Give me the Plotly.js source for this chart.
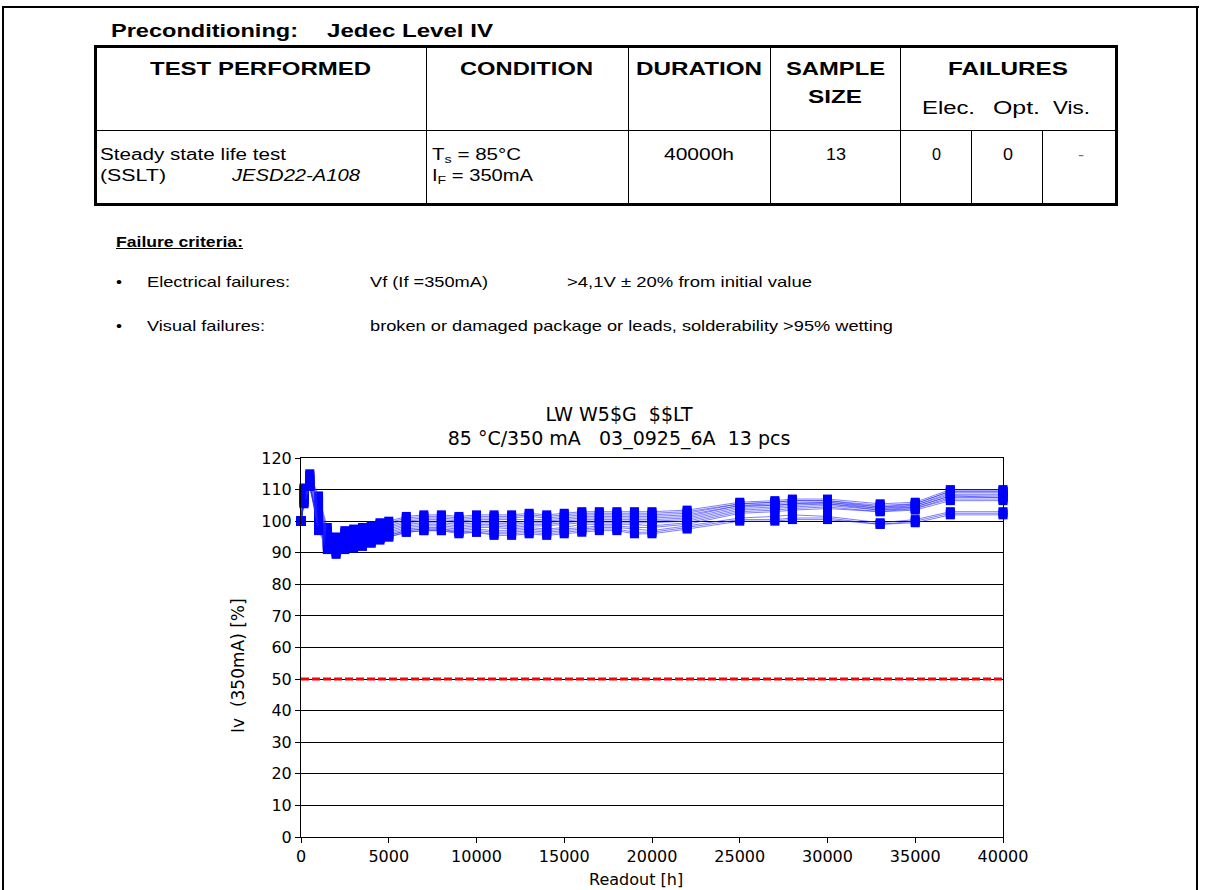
<!DOCTYPE html>
<html><head><meta charset="utf-8">
<script src="https://cdn.plot.ly/plotly-3.0.1.min.js"></script>
<style>
html,body{margin:0;padding:0;background:#fff;width:1206px;height:890px;overflow:hidden;}
#chart{position:absolute;left:0;top:0;width:1206px;height:890px;}
.doc{position:absolute;z-index:5;font-family:Arial,"Liberation Sans",sans-serif;color:#000;white-space:nowrap;line-height:1;transform-origin:0 50%;}
.doc sub{font-size:0.7em;vertical-align:-0.3em;line-height:0;}
.ln{position:absolute;z-index:5;background:#000;}
</style></head><body>
<div id="chart"></div>
<div id="doc"></div>
<script>
// ---------------- chart data ----------------
const readoutHours = [0,168,500,1000,1500,2000,2500,3000,3500,4000,4500,5000,6000,7000,8000,9000,10000,11000,12000,13000,14000,15000,16000,17000,18000,19000,20000,22000,25000,27000,28000,30000,33000,35000,37000,40000];
const s01 = [100,110.5,115,108,98,95,97,97.5,98,98.5,99.5,100,101.5,102,102,101.5,102,102,102,102.5,102,102.5,103,103,103,103,103,103.5,106,106.5,107,107,105.5,106,110,110];
const s02 = [100,110,114.5,107,97,94.5,96.5,97,97.5,98,99,99.5,101,101.5,101.5,101,101.5,101.5,101.5,102,101.5,102,102.5,102.5,102.5,102.5,102.5,103,105.5,106,106.5,106.5,105,105.5,109.5,109.5];
const s03 = [100,109.5,114,106,96.5,94,96,96.5,97,97.5,98.5,99,100.5,101,101,100.5,101,101,101,101.5,101,101.5,102,102,102,102,102,102.5,105.5,106,106.5,106.5,104.5,105.5,109.5,109.5];
const s04 = [100,109,113.5,105,96,93.5,95.5,96,96.5,97,98,98.5,100,100.5,100.5,100,100.5,100.5,100.5,100.5,100.5,101,101.5,101.5,101.5,101.5,101.5,102,105,105.5,106,106,104.5,105,109,109];
const s05 = [100,108.5,113,104,95.5,93,95,95.5,96,96.5,97.5,98,99.5,100,100,99.5,100,100,99.5,100,100,100.5,101,101,101,101,101,101.5,105,105,105.5,106,104,105,108.5,108.5];
const s06 = [100,108,112.5,103,95,92.5,94.5,95,95.5,96,97,97.5,99,99.5,99.5,99,99.5,99.5,99,99.5,99.5,100,100.5,100.5,100.5,100.5,100.5,101,104.5,105,105.5,105.5,104,104.5,108,108];
const s07 = [100,107.5,112,102,94.5,92,94,94.5,95,95.5,96.5,97,98.5,99,99,98.5,99,99,98.5,99,99,99.5,100,100,100,100,100,100.5,104,104.5,105,105.5,103.5,104.5,108,107.5];
const s08 = [100,107,111.5,101,94,91.5,93.5,94,94.5,95,96,96.5,98,98.5,98.5,98,98.5,98.5,98,98.5,98.5,99,99.5,99.5,99.5,99.5,99.5,100,103.5,104,104.5,105,103.5,104,107.5,107.5];
const s09 = [100,106.5,111,100,93.5,91,93,93.5,94,94.5,95.5,96,97.5,98,98,97.5,98,98,97.5,98,97.5,98,99,99,99,99,98.5,99.5,103,103.5,104,104.5,103,104,107,107];
const s10 = [100,106,111,99,93,90.5,92.5,93,93.5,94,95,95.5,97,97.5,97.5,97,97.5,97,97,97.5,97,97.5,98,98.5,98.5,98,98,99,102.5,103,103.5,104,103,103.5,106.5,106.5];
const s11 = [100,107,112,98,92.5,90.5,92,92.5,93,93.5,94.5,95.5,97,97.5,97.5,96.5,97,96.5,96.5,97,96.5,97,97.5,98,98,97.5,97,98.5,101,101.5,102,101.5,99.5,100.5,103,103];
const s12 = [100,106,111.5,97.5,92,90,91.5,92,92.5,93.5,94.5,95,96.5,97,97,96.5,96.5,96,96,96.5,96,96.5,97,97.5,97.5,96.5,96.5,98,100.5,100.5,101,101,99,100,102.5,102.5];
const s13 = [100,105.5,111,97,91,89.5,91,91.5,92,93,94,95,96.5,97,97,96,96.5,95.5,95.5,96,95.5,96,96.5,97,97,96,96,97.5,100,100,100.5,100.5,99,99.5,102,102];
const limitHours = [0,40000];
const limitValues = [50,50];
const xTickValues = [0,5000,10000,15000,20000,25000,30000,35000,40000];
const xTickLabels = ['0','5000','10000','15000','20000','25000','30000','35000','40000'];
const chartTitle = 'LW W5$G  $$LT<br>85 °C/350 mA   03_0925_6A  13 pcs';
const yTitle = 'Iv  (350mA) [%]';
const xTitle = 'Readout [h]';

// ---------------- chart ----------------
const allSeries = [s01,s02,s03,s04,s05,s06,s07,s08,s09,s10,s11,s12,s13];
const traces = allSeries.map((ys,i)=>({
  type:'scatter', mode:'lines+markers', x:readoutHours, y:ys, name:'pc '+(i+1),
  line:{color:'rgba(40,40,255,0.6)', width:1},
  marker:{symbol:'square', size:9, color:'#0000FF'},
  cliponaxis:false, showlegend:false, hoverinfo:'skip'
}));
traces.push({type:'scatter', mode:'lines', x:limitHours, y:limitValues,
  line:{color:'#FF0000', width:3, dash:'8px,3px'}, showlegend:false, hoverinfo:'skip'});

const F = '"DejaVu Sans", Verdana, Tahoma, sans-serif';
const PL=301, PR=1003, PT=458, PB=837;
const layout = {
  width:1206, height:890,
  margin:{l:PL, r:1206-PR, t:PT, b:890-PB, pad:0},
  paper_bgcolor:'#ffffff', plot_bgcolor:'#ffffff',
  showlegend:false,
  font:{family:F, size:16, color:'#000'},
  title:{text:chartTitle, xref:'container', yref:'container', x:619/1206, xanchor:'center',
         y:1-420.5/890, yanchor:'middle', font:{family:F, size:19, color:'#000'}},
  xaxis:{range:[0,40000], tickmode:'array', tickvals:xTickValues, ticktext:xTickLabels,
         showgrid:false, zeroline:false, showline:true, linecolor:'#000', linewidth:1, mirror:true,
         ticks:'outside', ticklen:5, tickcolor:'#000', tickfont:{family:F, size:16, color:'#000'}},
  yaxis:{range:[0,120], tick0:0, dtick:10, showgrid:true, gridcolor:'#000', gridwidth:1,
         zeroline:false, showline:true, linecolor:'#000', linewidth:1, mirror:true,
         ticks:'outside', ticklen:5, tickcolor:'#000', tickfont:{family:F, size:16, color:'#000'}},
  annotations:[
    {text:yTitle, xref:'paper', yref:'paper', x:(238-PL)/(PR-PL), y:(PB-666)/(PB-PT),
     xanchor:'center', yanchor:'middle', textangle:-90, showarrow:false, font:{family:F, size:17, color:'#000'}},
    {text:xTitle, xref:'paper', yref:'paper', x:(636-PL)/(PR-PL), y:(PB-879)/(PB-PT),
     xanchor:'center', yanchor:'middle', showarrow:false, font:{family:F, size:16, color:'#000'}}
  ]
};
Plotly.newPlot('chart', traces, layout, {staticPlot:true, displayModeBar:false});

// ---------------- document part (table + criteria) ----------------
const doc = document.getElementById('doc');
function line(x, y, w, h){
  const d=document.createElement('div'); d.className='ln';
  d.style.left=x+'px'; d.style.top=y+'px'; d.style.width=w+'px'; d.style.height=h+'px';
  doc.appendChild(d);
}
function txt(html, left, right, cy, size, o){
  o=o||{};
  const d=document.createElement('div'); d.className='doc'; d.innerHTML=html;
  d.style.fontSize=size+'px';
  if(o.bold) d.style.fontWeight='bold';
  if(o.italic) d.style.fontStyle='italic';
  if(o.underline) d.style.textDecoration='underline';
  if(o.color) d.style.color=o.color;
  d.style.left=left+'px'; d.style.top=(cy-0.5*size)+'px';
  doc.appendChild(d);
  const w=d.getBoundingClientRect().width;
  d.style.transform='scaleX('+((right-left)/w)+')';
}
// page frame
line(2,6,1197,2); line(2,6,2,890); line(1196,6,2,890);
// table frame
line(94,45,1024,3); line(94,203,1024,3); line(94,45,3,161); line(1115,45,3,161);
line(94,130,1024,1);
[426,628,770,900].forEach(x=>line(x,45,1,160));
[971,1042].forEach(x=>line(x,130,1,75));

txt('Preconditioning:',111,298,31,18,{bold:true});
txt('Jedec Level IV',327,493,31,18,{bold:true});
txt('TEST PERFORMED',150,371,69,18,{bold:true});
txt('CONDITION',460,593,69,18,{bold:true});
txt('DURATION',636,762,69,18,{bold:true});
txt('SAMPLE',786,885,69,18,{bold:true});
txt('SIZE',808,862,97,18,{bold:true});
txt('FAILURES',948,1068,69,18,{bold:true});
txt('Elec.',922,975,108,18);
txt('Opt.',993,1040,108,18);
txt('Vis.',1053,1090,108,18);
txt('Steady state life test',100,286,155,16);
txt('(SSLT)',100,166,176,16);
txt('JESD22-A108',232,360,176,16,{italic:true});
txt('T<sub>s</sub> = 85°C',432,521,155,16);
txt('I<sub>F</sub> = 350mA',432,533,176,16);
txt('40000h',664,734,155,16);
txt('13',826,846,155,16);
txt('0',932,941,155,16);
txt('0',1003,1013,155,16);
txt('-',1078,1084,155,16,{color:'#777'});

txt('Failure criteria:',116,243,241,15,{bold:true, underline:true});
txt('•',116,122,281,15);
txt('Electrical failures:',147,290,281,15);
txt('Vf (If =350mA)',370,488,281,15);
txt('&gt;4,1V ± 20% from initial value',567,812,281,15);
txt('•',116,122,325,15);
txt('Visual failures:',147,265,325,15);
txt('broken or damaged package or leads, solderability &gt;95% wetting',370,893,325,15);
</script>
</body></html>
